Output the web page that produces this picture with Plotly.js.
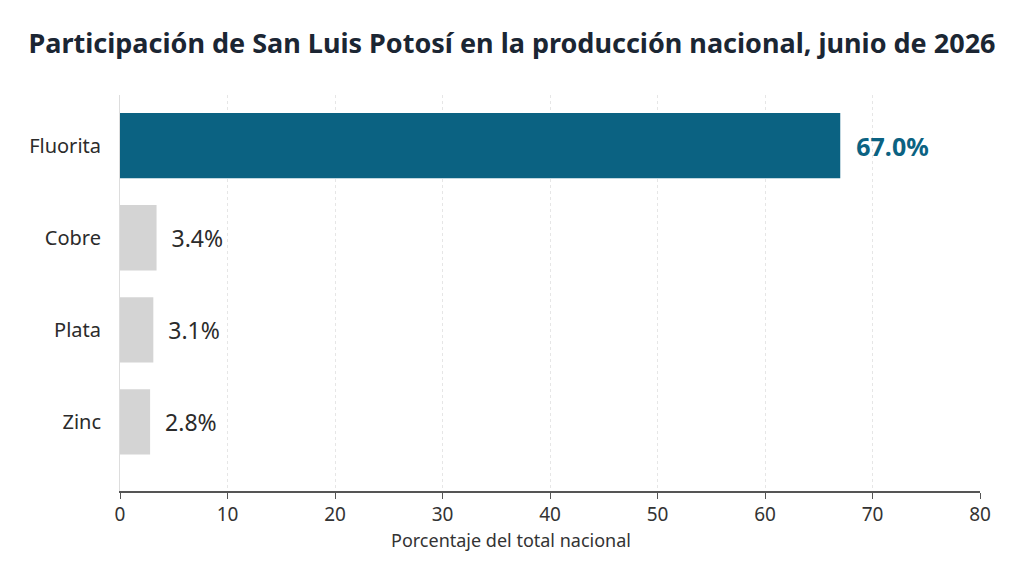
<!DOCTYPE html>
<html>
<head>
<meta charset="utf-8">
<script src="https://cdn.plot.ly/plotly-3.0.1.min.js"></script>
<style>
  html, body { margin: 0; padding: 0; background: #ffffff; }
  #chart { width: 1024px; height: 576px; }
</style>
</head>
<body>
<div id="chart"></div>
<script>
const minerals = ["Fluorita", "Cobre", "Plata", "Zinc"];
const shares = [67.0, 3.4, 3.1, 2.8];
const barColors = ["#0b6282", "#d4d4d4", "#d4d4d4", "#d4d4d4"];
const labelColors = ["#0b6282", "#2b2b2b", "#2b2b2b", "#2b2b2b"];
const labelSizes = [25, 23, 23, 23];
const xTicks = [0, 10, 20, 30, 40, 50, 60, 70, 80];

const data = [
    {
        type: "bar",
        orientation: "h",
        y: minerals,
        x: shares,
        width: 0.71,
        marker: { color: barColors },
        text: shares.map((v) => "  " + v.toFixed(1) + "%"),
        textposition: "outside",
        cliponaxis: false,
        textfont: {
            family: "'Noto Sans', sans-serif",
            size: labelSizes,
            color: labelColors,
            weight: shares.map((v, i) => (i === 0 ? 700 : 400)),
        },
        hoverinfo: "skip",
    },
];

const layout = {
    width: 1024,
    height: 576,
    paper_bgcolor: "#ffffff",
    plot_bgcolor: "#ffffff",
    margin: { l: 120, r: 44, t: 95, b: 85 },
    showlegend: false,
    title: {
        text: "<b>Participación de San Luis Potosí en la producción nacional, junio de 2026</b>",
        x: 0.5,
        xanchor: "center",
        y: 0.925,
        yanchor: "middle",
        font: { family: "'Noto Sans', sans-serif", size: 27, color: "#1b2633" },
    },
    xaxis: {
        range: [0, 80],
        tickvals: xTicks,
        ticks: "outside",
        ticklen: 6,
        tickcolor: "#555555",
        showline: true,
        linecolor: "#555555",
        linewidth: 1.5,
        showgrid: true,
        gridcolor: "#e6e6e6",
        griddash: "dot",
        gridwidth: 1,
        zeroline: false,
        tickfont: { family: "'Noto Sans', sans-serif", size: 19, color: "#333333" },
    },
    yaxis: {
        categoryorder: "array",
        categoryarray: minerals,
        autorange: false,
        range: [3.75, -0.55],
        showline: true,
        linecolor: "#dddddd",
        linewidth: 1,
        showgrid: false,
        zeroline: false,
        ticks: "",
        ticklabelstandoff: 14,
        tickfont: { family: "'Noto Sans', sans-serif", size: 20, color: "#2b2b2b" },
    },
    annotations: [
        {
            text: "Porcentaje del total nacional",
            xref: "paper",
            yref: "paper",
            x: 0.455,
            y: -0.124,
            xanchor: "center",
            yanchor: "middle",
            showarrow: false,
            font: { family: "'Noto Sans', sans-serif", size: 18, color: "#333333" },
        },
    ],
};

Plotly.newPlot("chart", data, layout, { displayModeBar: false, staticPlot: true });
</script>
</body>
</html>
